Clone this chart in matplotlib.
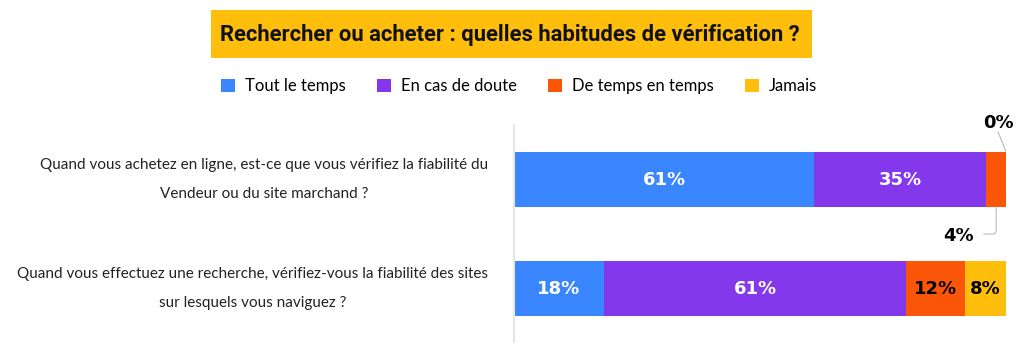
import matplotlib.pyplot as plt
from matplotlib.patches import Patch, Rectangle

# Data
questions = [
    "Quand vous achetez en ligne, est-ce que vous vérifiez la fiabilité du\nVendeur ou du site marchand ?",
    "Quand vous effectuez une recherche, vérifiez-vous la fiabilité des sites\nsur lesquels vous naviguez ?",
]
categories = ["Tout le temps", "En cas de doute", "De temps en temps", "Jamais"]
values = [
    [61.0, 35.0, 4.0, 0.0],
    [18.3, 61.4, 12.0, 8.3],
]
labels = [
    ["61%", "35%", "4%", "0%"],
    ["18%", "61%", "12%", "8%"],
]
colors = ["#3A86FF", "#8338EC", "#FB5607", "#FFBE0B"]
text_colors = ["white", "white", "black", "black"]

W, H = 1024, 361
fig = plt.figure(figsize=(W / 100, H / 100), dpi=100)

# title box
fig.patches.append(Rectangle((211 / W, 1 - 58 / H), 601 / W, 48 / H,
                             transform=fig.transFigure, facecolor="#FFBE0B",
                             edgecolor="none"))
fig.text(510 / W, 1 - 35 / H, "Rechercher ou acheter : quelles habitudes de vérification ?",
         ha="center", va="center", fontsize=15.8, fontweight="bold",
         family="Roboto", color="#111111")

ax = fig.add_axes([514 / W, 1 - 342 / H, 492 / W, 217 / H])
ypos = [0, 1]
for i, q in enumerate(questions):
    left = 0
    for j, v in enumerate(values[i]):
        ax.barh(ypos[i], v, left=left, height=0.51, color=colors[j], edgecolor="none")
        if v >= 5:
            ax.text(left + v / 2, ypos[i], labels[i][j], ha="center", va="center",
                    color=text_colors[j], fontsize=13, fontweight="bold",
                    family="DejaVu Sans")
        left += v

# small segments in row 1 labelled outside with leader lines
half = 0.255
ax.text(98.5, ypos[0] - 0.52, labels[0][3], ha="center", va="center",
        fontsize=13, fontweight="bold")
ax.plot([98.4, 100], [ypos[0] - 0.435, ypos[0] - half], color="#bbbbbb", lw=0.8)
ax.text(90.4, ypos[0] + 0.52, labels[0][2], ha="center", va="center",
        fontsize=13, fontweight="bold")
ax.plot([98.0, 98.0, 97.6, 95.5], [ypos[0] + half, ypos[0] + 0.48, ypos[0] + 0.50, ypos[0] + 0.50],
        color="#bbbbbb", lw=0.8)

for i, q in enumerate(questions):
    ax.text(-26 / 4.92, ypos[i], q, ha="right", va="center", multialignment="center",
            fontsize=11, family="Lato", linespacing=2.3, color="#222222")

ax.set_xlim(0, 100)
ax.set_ylim(1.49, -0.50)
ax.set_xticks([])
ax.set_yticks([])
for s in ["top", "right", "bottom"]:
    ax.spines[s].set_visible(False)
ax.spines["left"].set_color("#e6e6e6")
ax.spines["left"].set_linewidth(1.5)

handles = [Patch(facecolor=c, edgecolor="none") for c in colors]
leg = fig.legend(handles, categories, loc="center", bbox_to_anchor=(519 / W, 1 - 86 / H),
                 ncol=4, frameon=False, handlelength=0.85, handleheight=0.85,
                 handletextpad=0.6, columnspacing=1.85, prop={"family": "Lato", "size": 12})

fig.savefig("out.png", dpi=100)
